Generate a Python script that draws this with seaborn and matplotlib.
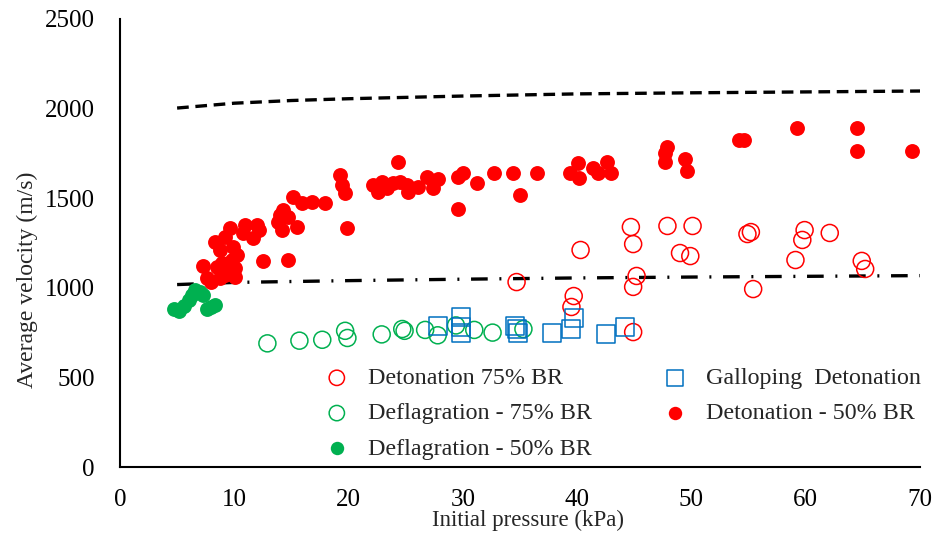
import numpy as np
import pandas as pd
import matplotlib
matplotlib.use("Agg")
import matplotlib.pyplot as plt
import seaborn as sns

# Detonation - 50% BR (filled red)
det50_p = [7.3, 7.6, 8.0, 8.3, 8.5, 8.75, 8.75, 8.9, 9.2, 9.2, 9.4, 9.6, 9.8, 9.9,
           10.1, 10.1, 10.2, 10.8, 10.9, 11.6, 12.0, 12.2, 12.5, 13.8, 14.0, 14.2,
           14.3, 14.7, 14.7, 15.1, 15.5, 15.9, 16.8, 17.9, 19.25, 19.4, 19.7, 19.9,
           22.1, 22.6, 22.9, 23.4, 23.9, 24.3, 24.5, 25.1, 25.2, 26.1, 26.9, 27.4,
           27.8, 29.6, 29.6, 30.0, 31.2, 32.7, 34.4, 35.0, 36.5, 39.4, 40.1, 40.2,
           41.4, 41.8, 42.6, 43.0, 47.7, 47.7, 47.9, 49.4, 49.6, 54.2, 54.6, 59.2,
           64.5, 64.5, 69.3]
det50_v = [1122, 1055, 1032, 1256, 1116, 1211, 1055, 1138, 1284, 1071, 1088, 1334,
           1155, 1228, 1110, 1060, 1183, 1306, 1350, 1278, 1350, 1323, 1150, 1367,
           1406, 1323, 1434, 1395, 1155, 1507, 1339, 1473, 1479, 1473, 1629, 1574,
           1529, 1334, 1574, 1535, 1590, 1557, 1585, 1702, 1590, 1574, 1535, 1563,
           1618, 1557, 1607, 1618, 1440, 1641, 1585, 1641, 1641, 1518, 1641, 1641,
           1696, 1613, 1669, 1641, 1702, 1641, 1752, 1702, 1786, 1719, 1652, 1825,
           1825, 1892, 1892, 1763, 1763]

# Detonation 75% BR (open red)
det75_p = [34.7, 39.5, 39.7, 40.3, 44.7, 44.9, 44.9, 44.9, 45.2, 47.9, 49.0, 49.9,
           50.1, 54.9, 55.2, 55.4, 59.1, 59.7, 59.9, 62.1, 64.9, 65.2]
det75_v = [1032, 893, 954, 1211, 1339, 1244, 1005, 753, 1066, 1345, 1194, 1177,
           1345, 1300, 1311, 993, 1155, 1267, 1322, 1306, 1150, 1105]

# Deflagration - 75% BR (open green)
defl75_p = [12.9, 15.7, 17.7, 19.7, 19.9, 22.9, 24.7, 24.9, 26.7, 27.8, 29.4, 31.0,
            32.6, 35.3]
defl75_v = [690, 705, 710, 760, 720, 740, 770, 760, 765, 735, 790, 765, 750, 770]

# Deflagration - 50% BR (filled green)
defl50_p = [4.7, 5.2, 5.6, 6.0, 6.3, 6.6, 7.0, 7.3, 7.6, 8.0, 8.3]
defl50_v = [880, 868, 900, 930, 960, 985, 975, 960, 880, 895, 905]

# Galloping detonation (open blue squares)
gallop_p = [27.8, 29.8, 29.8, 29.8, 34.6, 34.7, 34.8, 37.8, 39.5, 39.7, 42.5, 44.2]
gallop_v = [787, 837, 781, 748, 787, 770, 748, 748, 770, 831, 742, 781]

# upper reference curve (dashed) and lower reference curve (dash-dot)
cj_p = [5, 10, 15, 20, 30, 40, 50, 60, 70]
cj_v = [2003, 2030, 2045, 2055, 2070, 2082, 2088, 2093, 2098]
ref_p = [5, 10, 20, 30, 40, 50, 60, 70]
ref_v = [1018, 1030, 1040, 1048, 1055, 1060, 1064, 1068]

RED = "#FF0000"
GREEN = "#00B050"
BLUE = "#0070C0"

sns.set_style("white")
plt.rcParams['font.family'] = ['Liberation Serif', 'DejaVu Serif']

fig = plt.figure(figsize=(9.35, 5.33), dpi=100)
ax = fig.add_axes([0.1283, 0.1238, 0.8557, 0.8406])

sns.lineplot(x=cj_p, y=cj_v, ax=ax, color="black", lw=2.4, dashes=False,
             linestyle=(0, (3.5, 2)), legend=False)
sns.lineplot(x=ref_p, y=ref_v, ax=ax, color="black", lw=2.4, dashes=False,
             linestyle=(0, (5, 3.5, 0.6, 3.5)), legend=False)

sns.scatterplot(x=det75_p, y=det75_v, ax=ax, marker="o", s=150,
                facecolors="none", edgecolor=RED, linewidth=1.1,
                label="Detonation 75% BR", zorder=3)
sns.scatterplot(x=defl75_p, y=defl75_v, ax=ax, marker="o", s=150,
                facecolors="none", edgecolor=GREEN, linewidth=1.1,
                label="Deflagration - 75% BR", zorder=3)
sns.scatterplot(x=defl50_p, y=defl50_v, ax=ax, marker="o", s=115,
                color=GREEN, edgecolor=GREEN, linewidth=0,
                label="Deflagration - 50% BR", zorder=3)
sns.scatterplot(x=gallop_p, y=gallop_v, ax=ax, marker="s", s=170,
                facecolors="none", edgecolor=BLUE, linewidth=1.1,
                label="Galloping  Detonation", zorder=3)
sns.scatterplot(x=det50_p, y=det50_v, ax=ax, marker="o", s=115,
                color=RED, edgecolor=RED, linewidth=0,
                label="Detonation - 50% BR", zorder=3)

ax.set_xlim(0, 70)
ax.set_ylim(0, 2500)
ax.set_xticks(range(0, 71, 10))
ax.set_yticks(range(0, 2501, 500))
ax.tick_params(axis="both", direction="in", length=6, width=1.3,
               labelsize=18, colors="black")
ax.tick_params(axis="x", pad=16)
ax.tick_params(axis="y", pad=18)
for side in ["top", "right"]:
    ax.spines[side].set_visible(False)
for side in ["left", "bottom"]:
    ax.spines[side].set_color("black")
    ax.spines[side].set_linewidth(1.5)

ax.set_xlabel("Initial pressure (kPa)", fontsize=16.5)
ax.set_ylabel("Average velocity (m/s)", fontsize=17)
ax.xaxis.set_label_coords(0.51, -0.095)
ax.yaxis.set_label_coords(-0.102, 0.417)

ax.legend(ncol=2, frameon=False, fontsize=17.3, loc="upper left",
          bbox_to_anchor=(0.229, 0.244), handletextpad=0.3, markerscale=0.9,
          columnspacing=2.46, labelspacing=0.56, borderaxespad=0)

fig.savefig("out.png", dpi=100)
